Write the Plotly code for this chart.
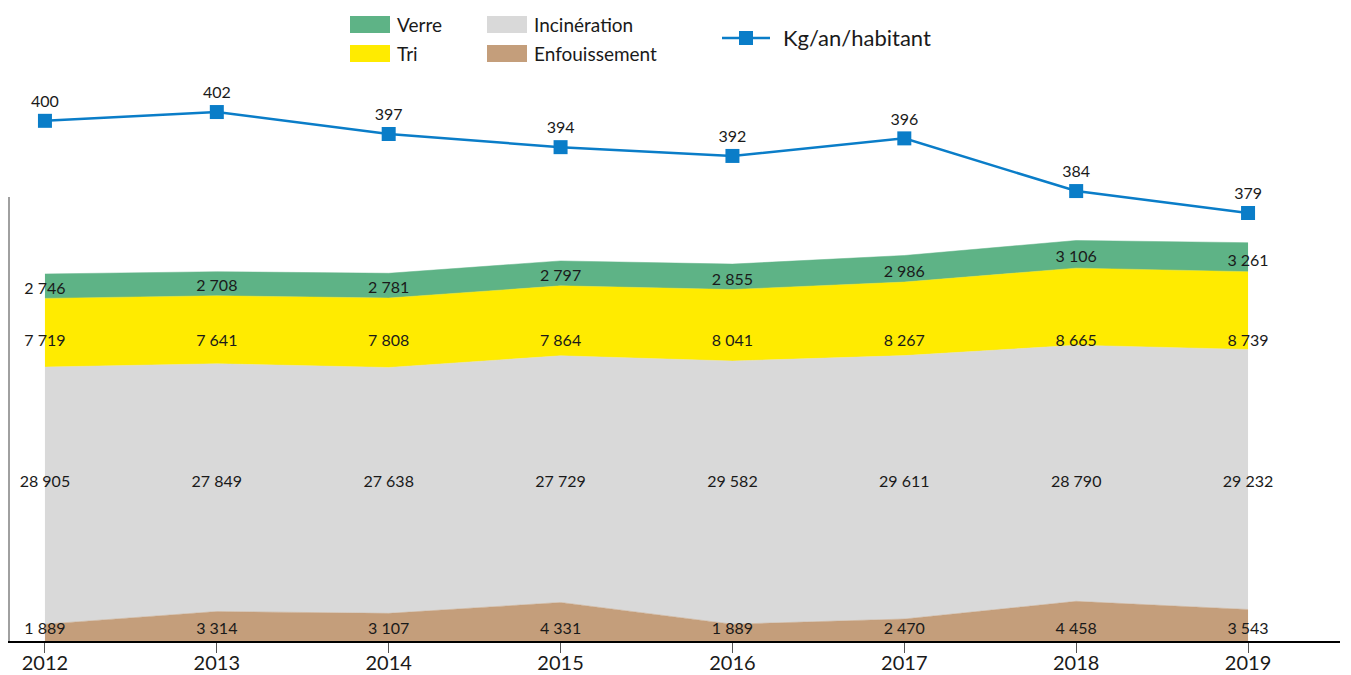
import plotly.graph_objects as go

# ---- data ----
years = [2012, 2013, 2014, 2015, 2016, 2017, 2018, 2019]
enfouissement = [1889, 3314, 3107, 4331, 1889, 2470, 4458, 3543]
incineration = [28905, 27849, 27638, 27729, 29582, 29611, 28790, 29232]
tri = [7719, 7641, 7808, 7864, 8041, 8267, 8665, 8739]
verre = [2746, 2708, 2781, 2797, 2855, 2986, 3106, 3261]
kg_hab = [400, 402, 397, 394, 392, 396, 384, 379]

FONT = "Lato"
TXT = "#1a1a1a"
C_VERRE = "#5EB386"
C_TRI = "#FFEB00"
C_INC = "#D9D9D9"
C_ENF = "#C49E7B"
C_LINE = "#0A7DC8"

# plot area geometry (pixels)
W, H = 1351, 675
ML, MR, MT, MB = 8, 11, 80, 34
PW, PH = W - ML - MR, H - MT - MB


def px(x):
    return (x - ML) / PW


def py(y):
    return (H - MB - y) / PH


def fmt(v):
    return f"{v:,}".replace(",", " ")


fig = go.Figure()

series = [
    ("Enfouissement", enfouissement, C_ENF),
    ("Incinération", incineration, C_INC),
    ("Tri", tri, C_TRI),
    ("Verre", verre, C_VERRE),
]
for name, vals, col in series:
    fig.add_trace(go.Scatter(
        x=years, y=vals, name=name, stackgroup="one", mode="lines",
        line=dict(width=0.5, color=col), fillcolor=col, showlegend=False,
        hoverinfo="skip",
    ))

# value labels
totals = [a + b + c + d for a, b, c, d in zip(enfouissement, incineration, tri, verre)]
lab_enf = [1236] * len(years)
lab_inc = [17760] * len(years)
lab_tri = [33610] * len(years)
lab_verre = [t - 0.65 * v for t, v in zip(totals, verre)]
for vals, ys in [(enfouissement, lab_enf), (incineration, lab_inc), (tri, lab_tri), (verre, lab_verre)]:
    fig.add_trace(go.Scatter(
        x=years, y=ys, mode="text", text=[fmt(v) for v in vals],
        textposition="middle center", textfont=dict(family=FONT, size=16, color=TXT),
        showlegend=False, hoverinfo="skip",
    ))

# per-capita line
fig.add_trace(go.Scatter(
    x=years, y=kg_hab, name="Kg/an/habitant", yaxis="y2", mode="lines+markers+text",
    line=dict(color=C_LINE, width=2.5),
    marker=dict(symbol="square", size=14, color=C_LINE),
    text=[str(v) for v in kg_hab], textposition="top center",
    textfont=dict(family=FONT, size=16, color=TXT),
    showlegend=False, hoverinfo="skip",
))

shapes = []
annotations = []

# left vertical axis line (partial height)
shapes.append(dict(type="line", xref="paper", yref="paper", x0=px(9), x1=px(9),
                   y0=0, y1=py(197), line=dict(color="#808080", width=1.5), layer="above"))

# manual legend
leg_items = [
    ("Verre", C_VERRE, 350, 16),
    ("Tri", C_TRI, 350, 45),
    ("Incinération", C_INC, 487, 16),
    ("Enfouissement", C_ENF, 487, 45),
]
for name, col, x0, y0 in leg_items:
    shapes.append(dict(type="rect", xref="paper", yref="paper",
                       x0=px(x0), x1=px(x0 + 40), y0=py(y0 + 17), y1=py(y0),
                       fillcolor=col, line=dict(width=0)))
    annotations.append(dict(xref="paper", yref="paper", x=px(x0 + 45), y=py(y0 + 9),
                            xanchor="left", yanchor="middle", showarrow=False,
                            text=name, font=dict(family=FONT, size=19, color=TXT)))
shapes.append(dict(type="line", xref="paper", yref="paper", x0=px(722), x1=px(770),
                   y0=py(38), y1=py(38), line=dict(color=C_LINE, width=2.5)))
shapes.append(dict(type="rect", xref="paper", yref="paper", x0=px(739), x1=px(753),
                   y0=py(45), y1=py(31), fillcolor=C_LINE, line=dict(width=0)))
annotations.append(dict(xref="paper", yref="paper", x=px(781), y=py(38),
                        xanchor="left", yanchor="middle", showarrow=False,
                        text="Kg/an/habitant", font=dict(family=FONT, size=22, color=TXT)))

fig.update_layout(
    width=W, height=H,
    margin=dict(l=ML, r=MR, t=MT, b=MB, autoexpand=False),
    paper_bgcolor="white", plot_bgcolor="white",
    font=dict(family=FONT, color=TXT),
    showlegend=False,
    xaxis=dict(
        range=[2011.785, 2019.535], tickvals=years, ticktext=[str(y) for y in years],
        showline=True, linecolor="#000000", linewidth=2, showgrid=False, zeroline=False,
        ticks="outside", ticklen=10, tickcolor="#555555", tickwidth=1,
        ticklabelstandoff=-7,
        tickfont=dict(family=FONT, size=20, color=TXT),
    ),
    yaxis=dict(
        range=[0, PH / 0.008896],
        showgrid=False, zeroline=False, showticklabels=False, ticks="", showline=False,
    ),
    yaxis2=dict(
        overlaying="y", range=[281.5, 409.3],
        showgrid=False, zeroline=False, showticklabels=False, showline=False, ticks="",
    ),
    shapes=shapes,
    annotations=annotations,
)

fig.write_html("out.html", config={"displayModeBar": False},
               post_script="document.body.style.margin='0';document.body.style.overflow='hidden';")
